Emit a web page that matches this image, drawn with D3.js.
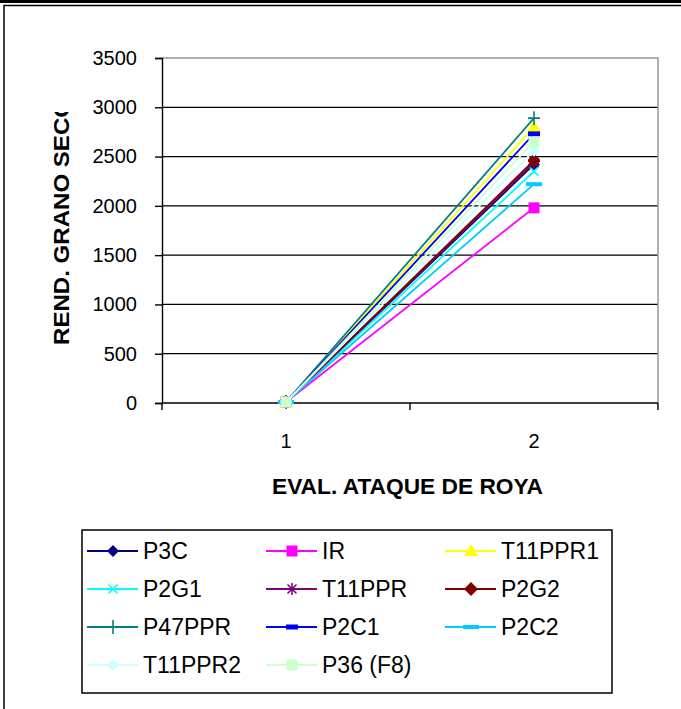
<!DOCTYPE html>
<html>
<head>
<meta charset="utf-8">
<script src="https://cdn.jsdelivr.net/npm/d3@7"></script>
<style>
  html, body { margin: 0; padding: 0; background: #fff; }
  svg { display: block; font-family: "Liberation Sans", Arial, sans-serif; }
</style>
</head>
<body>
<svg id="chart" width="681" height="709"></svg>
<script>
// Rust attack evaluation vs. dry grain yield
const categories = ["1", "2"];
const seriesNames = ["P3C", "IR", "T11PPR1", "P2G1", "T11PPR", "P2G2",
                     "P47PPR", "P2C1", "P2C2", "T11PPR2", "P36 (F8)"];
const evalOne = [10, 10, 10, 10, 10, 10, 10, 10, 10, 10, 10];
const evalTwo = [2420, 1980, 2800, 2350, 2440, 2460, 2890, 2730, 2220, 2560, 2650];
const yTicks = [0, 500, 1000, 1500, 2000, 2500, 3000, 3500];
const seriesColors = ["#000080", "#FF00FF", "#FFFF00", "#00FFFF", "#800080", "#800000",
                      "#008080", "#0000FF", "#00CCFF", "#CCFFFF", "#CCFFCC"];
const seriesMarkers = ["diamond", "square", "triangle", "x", "star", "circle",
                       "plus", "dash", "longdash", "diamond", "square"];

const FONT = "'Liberation Sans', Arial, sans-serif";
const svg = d3.select("#chart");

// outer frame
svg.append("rect").attr("x", 0).attr("y", 0).attr("width", 681).attr("height", 3).attr("fill", "#000");
svg.append("rect").attr("x", 4).attr("y", 5.5).attr("width", 700).attr("height", 720)
  .attr("fill", "none").attr("stroke", "#000").attr("stroke-width", 1.5);

const plot = { left: 162, right: 658, top: 58, bottom: 403 };

const x = d3.scaleBand().domain(categories).range([plot.left, plot.right]);
const y = d3.scaleLinear().domain([0, 3500]).range([plot.bottom, plot.top]);

// gridlines
svg.append("g").selectAll("line").data(yTicks.filter(t => t > 0 && t < 3500)).join("line")
  .attr("x1", plot.left).attr("x2", plot.right)
  .attr("y1", d => y(d)).attr("y2", d => y(d))
  .attr("stroke", "#000").attr("stroke-width", 1.3);

// plot area border (top and right)
svg.append("path")
  .attr("d", `M${plot.left},${y(3500)}H${plot.right}V${plot.bottom}`)
  .attr("fill", "none").attr("stroke", "#999").attr("stroke-width", 1.5);

// y axis
const yAxis = svg.append("g").attr("transform", `translate(${plot.left},0)`)
  .call(d3.axisLeft(y).tickValues(yTicks).tickSize(7).tickPadding(18).tickFormat(d3.format("d")));
yAxis.select(".domain").attr("stroke", "#000").attr("stroke-width", 1.4);
yAxis.selectAll(".tick line").attr("stroke", "#000").attr("stroke-width", 1.4);
yAxis.selectAll(".tick text").attr("font-size", 20).attr("fill", "#000").attr("font-family", FONT);

// x axis
const xAxis = svg.append("g").attr("transform", `translate(0,${plot.bottom})`)
  .call(d3.axisBottom(x).tickSize(0).tickPadding(31));
xAxis.select(".domain").remove();
xAxis.selectAll(".tick text").attr("font-size", 20).attr("fill", "#000").attr("font-family", FONT);
svg.append("line").attr("x1", plot.left).attr("x2", plot.right)
  .attr("y1", plot.bottom).attr("y2", plot.bottom).attr("stroke", "#000").attr("stroke-width", 1.4);
const bounds = [plot.left, plot.left + x.bandwidth(), plot.right];
svg.append("g").selectAll("line").data(bounds).join("line")
  .attr("x1", d => d).attr("x2", d => d)
  .attr("y1", plot.bottom).attr("y2", plot.bottom + 7)
  .attr("stroke", "#000").attr("stroke-width", 1.4);

// axis titles
svg.append("text").attr("x", 272).attr("y", 494)
  .attr("font-size", 22).attr("font-weight", "bold")
  .attr("textLength", 271).attr("lengthAdjust", "spacingAndGlyphs")
  .text("EVAL. ATAQUE DE ROYA");

svg.append("clipPath").attr("id", "ytitleclip")
  .append("rect").attr("x", 0).attr("y", 112).attr("width", 120).attr("height", 300);
svg.append("g").attr("clip-path", "url(#ytitleclip)")
  .append("text").attr("transform", "translate(69,345) rotate(-90)")
  .attr("font-size", 22).attr("font-weight", "bold")
  .attr("textLength", 246).attr("lengthAdjust", "spacingAndGlyphs")
  .text("REND. GRANO SECO");

// marker drawing
function drawMarker(g, type, color, cx, cy) {
  const s = 6;
  switch (type) {
    case "diamond":
      g.append("path").attr("d", `M${cx},${cy - s}L${cx + s},${cy}L${cx},${cy + s}L${cx - s},${cy}Z`).attr("fill", color);
      break;
    case "square":
      g.append("rect").attr("x", cx - 5.5).attr("y", cy - 5.5).attr("width", 11).attr("height", 11).attr("fill", color);
      break;
    case "triangle":
      g.append("path").attr("d", `M${cx},${cy - 7}L${cx + 7},${cy + 5}L${cx - 7},${cy + 5}Z`).attr("fill", color);
      break;
    case "x":
      g.append("path").attr("d", `M${cx - 4.5},${cy - 4.5}L${cx + 4.5},${cy + 4.5}M${cx + 4.5},${cy - 4.5}L${cx - 4.5},${cy + 4.5}`)
        .attr("stroke", color).attr("stroke-width", 1.6);
      break;
    case "star":
      g.append("path").attr("d", `M${cx - 4.5},${cy - 4.5}L${cx + 4.5},${cy + 4.5}M${cx + 4.5},${cy - 4.5}L${cx - 4.5},${cy + 4.5}M${cx},${cy - 6}V${cy + 6}`)
        .attr("stroke", color).attr("stroke-width", 1.6);
      break;
    case "circle":
      g.append("path").attr("d", `M${cx},${cy - 7}L${cx + 6},${cy - 1}L${cx + 6},${cy + 1}L${cx},${cy + 7}L${cx - 6},${cy + 1}L${cx - 6},${cy - 1}Z`)
        .attr("fill", color);
      break;
    case "plus":
      g.append("path").attr("d", `M${cx - 6},${cy}H${cx + 6}M${cx},${cy - 7}V${cy + 7}`)
        .attr("stroke", color).attr("stroke-width", 1.6);
      break;
    case "dash":
      g.append("rect").attr("x", cx - 6).attr("y", cy - 2.5).attr("width", 12).attr("height", 5).attr("fill", color);
      break;
    case "longdash":
      g.append("rect").attr("x", cx - 8).attr("y", cy - 2).attr("width", 16).attr("height", 4).attr("fill", color);
      break;
  }
}

// series lines and markers
const line = d3.line().x(d => x(d.cat) + x.bandwidth() / 2).y(d => y(d.val));
const seriesG = svg.append("g");
seriesNames.forEach((name, i) => {
  const pts = [{ cat: categories[0], val: evalOne[i] }, { cat: categories[1], val: evalTwo[i] }];
  const g = seriesG.append("g");
  g.append("path").datum(pts).attr("d", line)
    .attr("fill", "none").attr("stroke", seriesColors[i]).attr("stroke-width", 1.8);
  pts.forEach(p => drawMarker(g, seriesMarkers[i], seriesColors[i], x(p.cat) + x.bandwidth() / 2, y(p.val)));
});

// legend
const legend = svg.append("g");
legend.append("rect").attr("x", 82).attr("y", 530).attr("width", 530).attr("height", 163)
  .attr("fill", "#fff").attr("stroke", "#000").attr("stroke-width", 1.5);
const colX = [87, 266, 445];
const rowY = [551, 589, 627, 665];
seriesNames.forEach((name, i) => {
  const cx = colX[i % 3], cy = rowY[Math.floor(i / 3)];
  const g = legend.append("g");
  g.append("line").attr("x1", cx).attr("x2", cx + 51).attr("y1", cy).attr("y2", cy)
    .attr("stroke", seriesColors[i]).attr("stroke-width", 1.8);
  drawMarker(g, seriesMarkers[i], seriesColors[i], cx + 26, cy);
  g.append("text").attr("x", cx + 56).attr("y", cy + 8).attr("font-size", 23)
    .attr("fill", "#000").attr("font-family", FONT).text(name);
});
</script>
</body>
</html>
